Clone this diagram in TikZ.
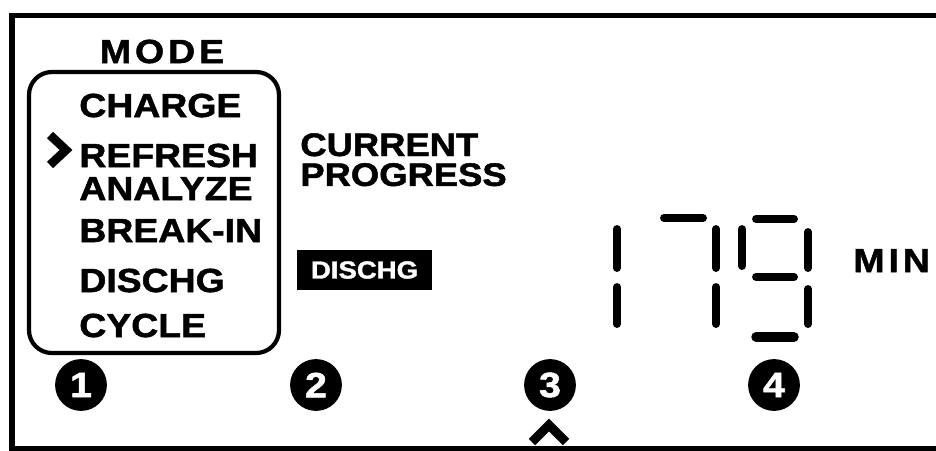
\documentclass[tikz,border=0pt]{standalone}
\usepackage{fontspec}
\usetikzlibrary{positioning}
\newfontfamily\lcd{Liberation Sans}[FakeStretch=1.12, BoldFeatures={FakeBold=1.5}]
\newcommand{\lcdsize}[1]{\lcd\bfseries\fontsize{#1}{#1}\selectfont}

\begin{document}
\begin{tikzpicture}[
  x=0.02cm, y=-0.02cm,
  font=\lcdsize{19},
  modetxt/.style={inner sep=0pt, anchor=base west},
  spaced/.style={modetxt, font=\lcdsize{19}\addfontfeatures{LetterSpace=12}},
  seg/.style={line width=4.5pt, line cap=round},
  badge/.style={circle, fill=black, text=white, inner sep=0pt, minimum size=29.5pt, font=\lcdsize{20}},
  tag/.style={fill=black, text=white, inner sep=0pt, minimum width=76.5pt, minimum height=22.7pt, font=\lcdsize{14}}]
\useasboundingbox (0,0) rectangle (936,450);
% ---- panel frame (open on the right) ----
\draw[line width=3.2pt, line join=miter] (936,15.5) -- (12,15.5) -- (12,449) -- (936,449);
% ---- mode list ----
\node[spaced, anchor=base] (mode) at (162,63) {MODE};
\draw[line width=2.4pt, rounded corners=13pt] (29,72) rectangle (279,353);
\node[modetxt] (charge)  at (79,117) {CHARGE};
\node[modetxt] (refresh) at (79,167) {REFRESH};
\node[modetxt] (analyze) at (79,200) {ANALYZE};
\node[modetxt] (breakin) at (79,242) {BREAK-IN};
\node[modetxt] (dischg)  at (79,292) {DISCHG};
\node[modetxt] (cycle)   at (79,337) {CYCLE};
\draw[line width=5pt, line join=miter, miter limit=3] (50,135) -- (66,150) -- (50,165);
% ---- progress ----
\node[modetxt, font=\lcdsize{18.5}] (current) at (300,156) {CURRENT};
\node[modetxt, font=\lcdsize{18.5}] (progress) at ([yshift=-17pt]current.base west) {PROGRESS};
\node[tag] (state) at (364.5,270) {DISCHG};
% ---- seven segment readout: 1 7 9 ----
\draw[seg] (617,229) -- (617,268);
\draw[seg] (617,287) -- (617,324);
\draw[seg] (664,218) -- (703,218);
\draw[seg] (716,229) -- (716,268);
\draw[seg] (716,287) -- (716,324);
\draw[seg] (756,219) -- (794,219);
\draw[seg] (742,229) -- (742,266);
\draw[seg] (808,232) -- (808,268);
\draw[seg] (756,277) -- (794,277);
\draw[seg] (808,289) -- (808,324);
\draw[seg, line width=5.4pt] (756,337) -- (794,337);
\node[spaced] (unit) at (853,272) {MIN};
% ---- callouts ----
\node[badge] (n1) at (81,385) {1};
\node[badge] (n2) at (316,385) {2};
\node[badge] (n3) at (550,385) {3};
\node[badge] (n4) at (774,385) {4};
\draw[line width=5.2pt, line join=miter, miter limit=3] (532,442) -- (549,425) -- (566,442);
\end{tikzpicture}
\end{document}
